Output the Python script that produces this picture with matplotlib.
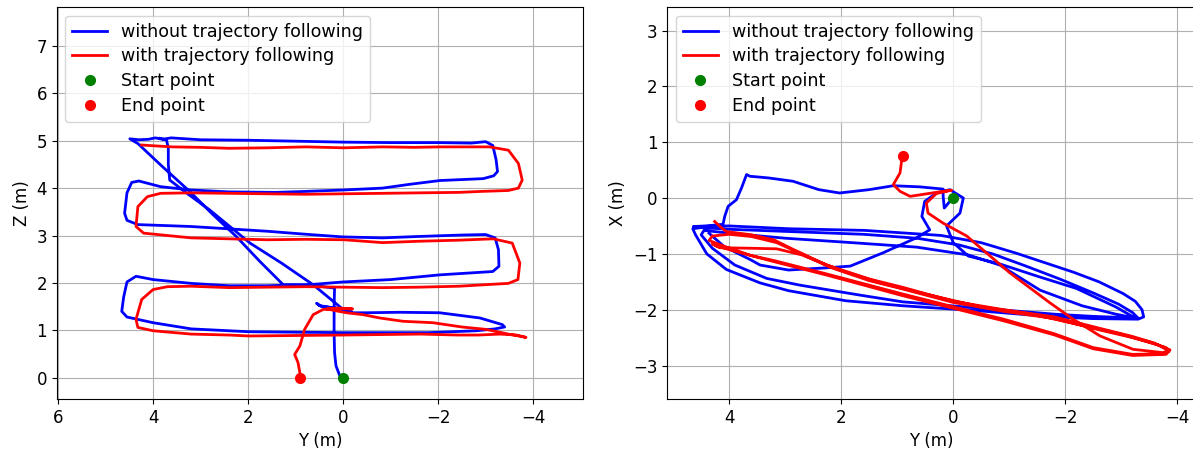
import matplotlib
matplotlib.use("Agg")
import matplotlib.pyplot as plt

plt.rcParams["font.family"] = ["DejaVu Sans"]
plt.rcParams["font.size"] = 12

# ---- Y-Z view: flight without trajectory following ----
left_blue_y = [0, 0.07, 0.15, 0.18, 0.19, 0.19, 0.18, 0.5, 0.9, 1.26,
               1.75, 2.25, 2.75, 3.23, 3.8, 4.32,
               4.49, 4.3, 4.1, 3.95, 3.8, 3.62,
               3.0, 2.0, 1.0, 0, -1.0, -2.0, -2.7, -3.0, -3.15, -3.22, -3.25, -3.17, -2.95,
               -2.04, -1.4, -0.83, 0, 0.8, 1.42, 2.4, 3.2, 3.84, 4.3, 4.45, 4.55, 4.6, 4.55, 4.32,
               3.2, 2.4, 1.6, 0.7, 0, -0.83, -1.6, -2.5, -3.0, -3.2, -3.27, -3.28, -3.15,
               -2.04, -1.0, 0, 0.62, 1.6, 2.4, 3.2, 4.0, 4.36, 4.55, 4.62, 4.66, 4.55,
               4.0, 3.2, 2.0, 1.0, 0, -1.0, -1.8, -2.8, -3.2, -3.4, -3.35,
               -2.88, -2.03, -1.19, -0.49, -0.2, 0.1, 0.5, 0.56, 0.45, 0.0, -0.18,
               0.0, 0.63, 1.3, 1.96, 2.81, 3.3, 3.65, 3.68, 3.68, 3.72, 3.85]
left_blue_z = [0, 0.04, 0.25, 0.53, 0.95, 1.51, 1.89, 1.93, 1.95, 1.96,
               2.45, 2.98, 3.45, 3.93, 4.45, 4.94,
               5.04, 5.02, 5.03, 5.06, 5.03, 5.06,
               5.02, 5.01, 4.99, 4.97, 4.96, 4.96, 4.95, 4.98, 4.9, 4.6, 4.35, 4.26, 4.2,
               4.16, 4.08, 4.0, 3.96, 3.93, 3.91, 3.92, 3.96, 4.03, 4.15, 4.12, 3.9, 3.47, 3.32, 3.23,
               3.19, 3.14, 3.09, 3.02, 2.97, 2.95, 2.98, 3.01, 3.02, 2.95, 2.7, 2.35, 2.24,
               2.17, 2.07, 2.02, 1.97, 1.94, 1.94, 1.99, 2.07, 2.14, 2.02, 1.7, 1.4, 1.28,
               1.16, 1.03, 0.97, 0.96, 0.95, 0.95, 0.95, 0.99, 1.03, 1.07, 1.12,
               1.26, 1.37, 1.38, 1.37, 1.37, 1.46, 1.52, 1.57, 1.5, 1.45, 1.39,
               1.44, 1.96, 2.42, 2.84, 3.54, 3.9, 4.17, 4.5, 4.85, 5.02, 5.05]

# ---- Y-Z view: flight with trajectory following ----
left_red_y = [4.24, 4.1, 3.6, 3.0, 2.4, 1.6, 0.78, 0, -0.83, -1.5, -2.04, -2.6, -3.08,
              -3.48, -3.69, -3.77, -3.69, -3.48,
              -2.9, -2.44, -1.6, -0.83, 0, 0.78, 1.6, 2.39, 3.2, 3.84, 4.12, 4.32, 4.36, 4.2,
              3.2, 2.4, 1.59, 0.8, -0.02, -0.83, -1.63, -2.4, -3.16, -3.56, -3.72, -3.68, -3.48,
              -2.44, -1.6, -0.83, 0, 0.78, 1.6, 2.39, 3.2, 3.7, 4.0, 4.24, 4.36, 4.32, 4.0,
              3.2, 2.4, 1.99, 1.0, -0.02, -0.8, -1.63, -2.4, -2.84, -3.3, -3.65, -3.85,
              -3.48, -3.0, -2.5, -1.89, -1.26, -0.77, -0.42, -0.07, 0.35, 0.1, -0.2, 0.1, 0.42,
              0.63, 0.81, 0.91, 1.02, 0.95, 0.91, 0.91]
left_red_z = [4.91, 4.9, 4.87, 4.86, 4.84, 4.85, 4.87, 4.85, 4.87, 4.86, 4.87, 4.87, 4.87,
              4.8, 4.52, 4.17, 4.0, 3.95,
              3.93, 3.91, 3.9, 3.89, 3.88, 3.87, 3.88, 3.89, 3.9, 3.89, 3.82, 3.61, 3.19, 3.05,
              2.95, 2.93, 2.91, 2.92, 2.91, 2.85, 2.88, 2.9, 2.93, 2.84, 2.42, 2.07, 1.99,
              1.93, 1.91, 1.9, 1.91, 1.92, 1.91, 1.9, 1.93, 1.92, 1.86, 1.65, 1.23, 1.06, 0.99,
              0.92, 0.9, 0.88, 0.89, 0.9, 0.91, 0.92, 0.9, 0.9, 0.92, 0.9, 0.85,
              0.92, 1.02, 1.07, 1.16, 1.19, 1.26, 1.33, 1.37, 1.45, 1.47, 1.45, 1.46, 1.44,
              1.33, 1.02, 0.67, 0.49, 0.32, 0.1, 0.0]

# ---- Y-X view: flight without trajectory following ----
right_blue_y = [0, 0.06, 0.16, 0.18, 0.18, 0.6, 1.07, 1.5, 2.03, 2.4, 2.86, 3.3, 3.63, 3.69,
                3.78, 3.87, 4.02, 4.08, 4.11, 4.4,
                4.64, 4.0, 2.94, 1.58, 0.22, -0.5, -1.13, -1.7, -2.15, -2.6, -3.03, -3.25, -3.37, -3.4, -3.3,
                -2.5, -1.81, -0.45, 0.9, 1.92, 2.94, 3.45, 4.05, 4.4, 4.6, 4.65, 4.5,
                4.0, 2.94, 1.6, 0.65, -0.1, -0.7, -1.3, -1.9, -2.5, -2.95, -3.2, -3.3,
                -2.5, -1.8, -0.45, 0.9, 1.66, 2.74, 3.33, 3.9, 4.3, 4.5, 4.45,
                4.0, 3.0, 1.8, 0.65, -0.27, -0.83, -1.55, -2.3, -2.9, -3.25,
                -2.9, -2.2, -1.5, -0.83, -0.27, 0.0, 0.12,
                -0.12, -0.18, 0.06, 0.3, 0.51, 0.56, 0.42,
                0.65, 1.25, 1.84, 2.26, 2.94, 3.45, 3.61, 4.09, 4.36]
right_blue_x = [0, -0.06, -0.18, 0.03, 0.16, 0.2, 0.22, 0.15, 0.09, 0.15, 0.3, 0.36, 0.39, 0.42,
                0.18, -0.03, -0.15, -0.33, -0.47, -0.5,
                -0.51, -0.5, -0.55, -0.58, -0.67, -0.8, -0.99, -1.18, -1.33, -1.5, -1.71, -1.85, -2.0, -2.13, -2.17,
                -2.16, -2.13, -2.02, -1.93, -1.84, -1.66, -1.52, -1.28, -1.0, -0.66, -0.55, -0.53,
                -0.56, -0.6, -0.65, -0.72, -0.84, -1.0, -1.22, -1.45, -1.7, -1.9, -2.05, -2.15,
                -2.12, -2.08, -1.97, -1.86, -1.74, -1.56, -1.44, -1.2, -0.9, -0.66, -0.58,
                -0.63, -0.72, -0.8, -0.88, -1.02, -1.2, -1.65, -1.93, -2.08, -2.15,
                -1.95, -1.62, -1.4, -1.18, -1.04, -0.8, -0.5,
                -0.27, 0.0, 0.15, 0.09, -0.06, -0.33, -0.57,
                -0.71, -0.98, -1.22, -1.25, -1.29, -1.2, -1.11, -0.87, -0.63]

# ---- Y-X view: flight with trajectory following ----
right_red_y = [4.26, 4.12, 4.05,
               3.6, 3.2, 2.9, 2.26, 1.5, 0.9, 0, -0.9, -1.81, -2.6, -3.2, -3.6, -3.82, -3.75,
               -3.2, -2.5, -1.8, -0.9, -0.45, 0.9, 2.26, 3.2, 3.61, 4.1, 4.36, 4.3, 4.0,
               3.6, 3.15, 2.8, 2.2, 1.5, 0.9, 0, -0.9, -1.81, -2.6, -3.2, -3.65, -3.87, -3.8,
               -3.2, -2.5, -1.8, -0.9, 0.9, 2.26, 3.2, 3.8, 4.23, 4.3,
               4.17, 3.6, 3.15, 2.7, 2.0, 1.3, 0.5, -0.5, -1.5, -2.3, -3.0, -3.5, -3.8, -3.85, -3.75,
               -3.21, -2.62, -2.14, -1.73, -1.01, -0.24, 0.18, 0.45, 0.48, 0.3, 0.03,
               0.18, 0.77, 0.95, 1.07, 0.95, 0.92, 0.9]
right_red_x = [-0.42, -0.55, -0.6,
               -0.66, -0.75, -0.9, -1.2, -1.45, -1.6, -1.85, -2.0, -2.13, -2.33, -2.48, -2.6, -2.72, -2.79,
               -2.8, -2.68, -2.43, -2.17, -2.06, -1.72, -1.36, -1.12, -1.03, -0.86, -0.76, -0.68, -0.65,
               -0.69, -0.8, -0.96, -1.24, -1.48, -1.63, -1.87, -2.03, -2.16, -2.36, -2.5, -2.63, -2.72, -2.8,
               -2.82, -2.7, -2.45, -2.2, -1.75, -1.38, -1.14, -0.98, -0.86, -0.82,
               -0.89, -0.9, -0.91, -1.02, -1.3, -1.52, -1.72, -1.95, -2.1, -2.28, -2.44, -2.58, -2.68, -2.75, -2.77,
               -2.71, -2.47, -2.17, -1.88, -1.34, -0.68, -0.45, -0.27, -0.09, 0.08, 0.14,
               0.12, 0.03, 0.12, 0.24, 0.45, 0.68, 0.76]

start_point = (0.0, 0.0)
end_point_yz = (left_red_y[-1], left_red_z[-1])
end_point_yx = (right_red_y[-1], right_red_x[-1])

fig = plt.figure(figsize=(11.93, 4.5), dpi=100)
ax1 = fig.add_axes([0.0475, 0.1133, 0.4412, 0.871])
ax2 = fig.add_axes([0.5591, 0.1133, 0.4437, 0.871])

lw = 2.0
ms = 7
legend_kw = dict(loc="upper left", fontsize=12.6, labelspacing=0.38,
                 borderaxespad=0.5, handletextpad=0.8)

ax1.plot(left_blue_y, left_blue_z, color="blue", lw=lw, label="without trajectory following")
ax1.plot(left_red_y, left_red_z, color="red", lw=lw, label="with trajectory following")
ax1.plot(*start_point, "o", color="green", ms=ms, label="Start point")
ax1.plot(*end_point_yz, "o", color="red", ms=ms, label="End point")
ax1.set_xlim(6.03, -5.05)
ax1.set_ylim(-0.45, 7.82)
ax1.set_xticks([6, 4, 2, 0, -2, -4])
ax1.set_yticks(range(0, 8))
ax1.set_xlabel("Y (m)")
ax1.set_ylabel("Z (m)")
ax1.grid(True)
ax1.legend(**legend_kw)

ax2.plot(right_blue_y, right_blue_x, color="blue", lw=lw, label="without trajectory following")
ax2.plot(right_red_y, right_red_x, color="red", lw=lw, label="with trajectory following")
ax2.plot(*start_point, "o", color="green", ms=ms, label="Start point")
ax2.plot(*end_point_yx, "o", color="red", ms=ms, label="End point")
ax2.set_xlim(5.11, -4.34)
ax2.set_ylim(-3.6, 3.42)
ax2.set_xticks([4, 2, 0, -2, -4])
ax2.set_yticks(range(-3, 4))
ax2.set_xlabel("Y (m)")
ax2.set_ylabel("X (m)")
ax2.grid(True)
ax2.legend(**legend_kw)

fig.savefig("out.png", dpi=100)
